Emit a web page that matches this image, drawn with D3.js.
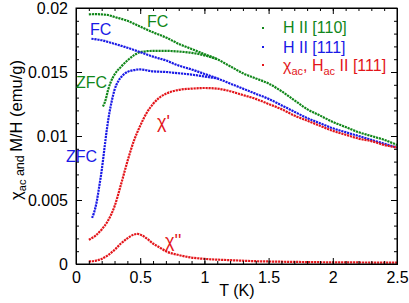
<!DOCTYPE html>
<html lang="en">
<head>
<meta charset="UTF-8" />
<title>chi_ac and M/H vs T</title>
<script src="https://cdn.jsdelivr.net/npm/d3@7"></script>
<style>
  body { margin: 0; background: #fff; }
  text { font-family: "Liberation Sans", Arial, sans-serif; }
</style>
</head>
<body>
<div id="chart"></div>
<script>
// ---- data (T in K, value in emu/g) ----
const greenFC_T = [0.10,0.15,0.20,0.25,0.30,0.40,0.50,0.60,0.70,0.80,0.90,1.00,1.10,1.20,1.30,1.40,1.50,1.60,1.70,1.80,1.90,2.00,2.10,2.20,2.30,2.40,2.50];
const greenFC_v = [0.0195,0.01952,0.0195,0.01945,0.0193,0.0190,0.01855,0.0181,0.0177,0.0172,0.0168,0.0164,0.0160,0.01545,0.0149,0.0145,0.0141,0.0135,0.0128,0.0121,0.0116,0.0111,0.0107,0.0103,0.0100,0.0097,0.0093];

const greenZFC_T = [0.21,0.23,0.25,0.27,0.30,0.35,0.40,0.45,0.50,0.60,0.70,0.80,0.90,1.00,1.10];
const greenZFC_v = [0.0123,0.0128,0.0136,0.0142,0.0148,0.0154,0.0159,0.0163,0.01655,0.01665,0.01665,0.0166,0.0165,0.0163,0.0160];

const blueFC_T = [0.12,0.20,0.30,0.40,0.50,0.60,0.70,0.80,0.90,1.00,1.10,1.20,1.30,1.40,1.50,1.60,1.70,1.80,1.90,2.00,2.10,2.20,2.30,2.40,2.50];
const blueFC_v = [0.0176,0.01748,0.0172,0.0169,0.01655,0.0162,0.0159,0.0155,0.0152,0.01485,0.0145,0.0141,0.0137,0.0133,0.0129,0.0124,0.0119,0.0114,0.0110,0.0106,0.0103,0.0100,0.0097,0.0094,0.0091];

const blueZFC_T = [0.125,0.14,0.16,0.18,0.20,0.22,0.24,0.26,0.28,0.30,0.33,0.36,0.40,0.45,0.50,0.60,0.70,0.80,0.90,1.00,1.10];
const blueZFC_v = [0.0036,0.0040,0.0048,0.0060,0.0073,0.0089,0.0105,0.0118,0.0128,0.0136,0.0143,0.0147,0.0150,0.01515,0.0152,0.01505,0.0150,0.0149,0.0148,0.01465,0.0145];

const chi1_T = [0.10,0.15,0.20,0.25,0.30,0.35,0.40,0.45,0.50,0.55,0.60,0.65,0.70,0.80,0.90,1.00,1.10,1.20,1.30,1.40,1.50,1.60,1.70,1.80,1.90,2.00,2.10,2.20,2.30,2.40,2.50];
const chi1_v = [0.0019,0.0022,0.0027,0.0034,0.0045,0.0062,0.0080,0.0096,0.0108,0.0118,0.0125,0.0130,0.0133,0.0136,0.0137,0.01375,0.0137,0.0135,0.0132,0.0129,0.0125,0.0121,0.0116,0.0112,0.0108,0.0104,0.0101,0.0098,0.0096,0.0093,0.0091];

const chi2_T = [0.10,0.15,0.20,0.25,0.30,0.35,0.40,0.45,0.48,0.52,0.55,0.60,0.65,0.70,0.80,0.90,1.00,1.20,1.40,1.60,1.80,2.00,2.20,2.50];
const chi2_v = [0.0002,0.00025,0.0004,0.0007,0.0011,0.0016,0.0020,0.0023,0.00235,0.0022,0.0020,0.0016,0.0013,0.0010,0.0007,0.0005,0.0004,0.0003,0.00022,0.00018,0.00015,0.00013,0.00012,0.0001];

const xTicks = [0, 0.5, 1, 1.5, 2, 2.5];
const xTickLabels = ["0", "0.5", "1", "1.5", "2", "2.5"];
const yTicks = [0, 0.005, 0.01, 0.015, 0.02];
const yTickLabels = ["0", "0.005", "0.01", "0.015", "0.02"];

const green = "#11871a", blue = "#1a1ae6", red = "#e3151a";

const w = 409, h = 303;
const mLeft = 76, mRight = 397, mTop = 8, mBottom = 264;

const xScale = d3.scaleLinear([0, 2.5], [mLeft, mRight]);
const yScale = d3.scaleLinear([0, 0.02], [mBottom, mTop]);

const svg = d3.select("#chart").append("svg")
    .attr("width", w)
    .attr("height", h);

// curves
const line = d3.line()
    .x(d => xScale(d[0]))
    .y(d => yScale(d[1]))
    .curve(d3.curveMonotoneX);

const series = [
    [greenFC_T, greenFC_v, green],
    [greenZFC_T, greenZFC_v, green],
    [blueFC_T, blueFC_v, blue],
    [blueZFC_T, blueZFC_v, blue],
    [chi1_T, chi1_v, red],
    [chi2_T, chi2_v, red]
];
series.forEach(s => {
    svg.append("path")
        .datum(d3.zip(s[0], s[1]))
        .attr("d", line)
        .attr("fill", "none")
        .attr("stroke", s[2])
        .attr("stroke-width", 2.2)
        .attr("stroke-dasharray", "2.2 0.8");
});

// axes, ticks pointing inward on all four sides
const minorX = d3.range(0, 2.51, 0.1);
const minorY = d3.range(0, 0.02001, 0.001);

svg.append("g")
    .attr("transform", "translate(0," + mBottom + ")")
    .call(d3.axisBottom(xScale).tickValues(minorX).tickSize(-3).tickFormat(""));
svg.append("g")
    .attr("transform", "translate(0," + mBottom + ")")
    .attr("class", "x-axis")
    .call(d3.axisBottom(xScale).tickValues(xTicks).tickSizeInner(-6).tickSizeOuter(0).tickPadding(8)
        .tickFormat((d, i) => xTickLabels[i]));
svg.append("g")
    .attr("transform", "translate(0," + mTop + ")")
    .call(d3.axisTop(xScale).tickValues(minorX).tickSize(-3).tickFormat(""));
svg.append("g")
    .attr("transform", "translate(0," + mTop + ")")
    .call(d3.axisTop(xScale).tickValues(xTicks).tickSize(-6).tickFormat(""));

svg.append("g")
    .attr("transform", "translate(" + mLeft + ",0)")
    .call(d3.axisLeft(yScale).tickValues(minorY).tickSize(-3).tickFormat(""));
svg.append("g")
    .attr("transform", "translate(" + mLeft + ",0)")
    .attr("class", "y-axis")
    .call(d3.axisLeft(yScale).tickValues(yTicks).tickSizeInner(-6).tickSizeOuter(0).tickPadding(8)
        .tickFormat((d, i) => yTickLabels[i]));
svg.append("g")
    .attr("transform", "translate(" + mRight + ",0)")
    .call(d3.axisRight(yScale).tickValues(minorY).tickSize(-3).tickFormat(""));
svg.append("g")
    .attr("transform", "translate(" + mRight + ",0)")
    .call(d3.axisRight(yScale).tickValues(yTicks).tickSize(-6).tickFormat(""));

svg.selectAll(".domain").attr("stroke", "#000").attr("stroke-width", 1);
svg.selectAll(".tick line").attr("stroke", "#000");
svg.selectAll(".x-axis text, .y-axis text")
    .attr("font-size", 16)
    .attr("fill", "#000")
    .style("font-family", "'Liberation Sans', Arial, sans-serif");

// frame
svg.append("rect")
    .attr("x", mLeft).attr("y", mTop)
    .attr("width", mRight - mLeft).attr("height", mBottom - mTop)
    .attr("fill", "none").attr("stroke", "#000").attr("stroke-width", 1);

// axis titles
svg.append("text")
    .attr("x", 237)
    .attr("y", 296)
    .attr("text-anchor", "middle")
    .attr("font-size", 16)
    .text("T (K)");

const ylab = svg.append("text")
    .attr("transform", "translate(22," + 130 + ") rotate(-90)")
    .attr("text-anchor", "middle")
    .attr("font-size", 16.5);
ylab.append("tspan").text("χ");
ylab.append("tspan").attr("font-size", 11).attr("dy", 4).text("ac");
ylab.append("tspan").attr("font-size", 12.5).attr("dy", -2).text(" and ");
ylab.append("tspan").attr("dy", -2).text("M/H (emu/g)");

// curve labels
const notes = [
    ["FC", 147, 27, green, 16],
    ["FC", 90, 35, blue, 16],
    ["ZFC", 76, 88, green, 16],
    ["ZFC", 66, 162, blue, 16],
    ["χ'", 157, 128, red, 18],
    ["χ''", 165, 247, red, 18]
];
notes.forEach(n => {
    svg.append("text")
        .attr("x", n[1]).attr("y", n[2])
        .attr("fill", n[3])
        .attr("font-size", n[4])
        .text(n[0]);
});

// legend
const legend = [
    [green, 28],
    [blue, 47],
    [red, 65]
];
legend.forEach(l => {
    svg.append("rect")
        .attr("x", 262).attr("y", l[1] - 1)
        .attr("width", 2).attr("height", 2)
        .attr("fill", l[0]);
});
svg.append("text").attr("x", 283).attr("y", 33).attr("fill", green).attr("font-size", 16).text("H II [110]");
svg.append("text").attr("x", 283).attr("y", 53).attr("fill", blue).attr("font-size", 16).text("H II [111]");
const lt = svg.append("text").attr("x", 283).attr("y", 71).attr("fill", red).attr("font-size", 16);
lt.append("tspan").text("χ");
lt.append("tspan").attr("font-size", 11).attr("dy", 4).text("ac");
lt.append("tspan").attr("dy", -4).text(", H");
lt.append("tspan").attr("font-size", 11).attr("dy", 4).text("ac");
lt.append("tspan").attr("dy", -4).text(" II [111]");
</script>
</body>
</html>
